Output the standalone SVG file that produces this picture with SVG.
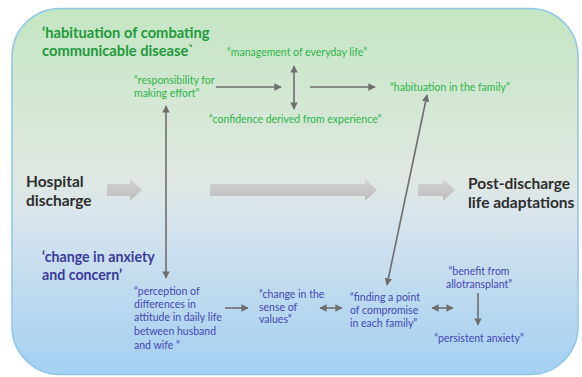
<svg xmlns="http://www.w3.org/2000/svg" width="582" height="377" viewBox="0 0 582 377">
  <defs>
    <linearGradient id="bg" x1="0" y1="0" x2="0" y2="1">
      <stop offset="0" stop-color="#c4e6c2"/>
      <stop offset="0.45" stop-color="#dfe8e0"/>
      <stop offset="0.55" stop-color="#dae5ec"/>
      <stop offset="1" stop-color="#a3d0f2"/>
    </linearGradient>
    <linearGradient id="blk" x1="0" y1="0" x2="0" y2="1">
      <stop offset="0" stop-color="#d2d2d2"/>
      <stop offset="1" stop-color="#bdbdbd"/>
    </linearGradient>
    <marker id="ah" viewBox="0 0 10 10" refX="9" refY="5" markerWidth="4.6" markerHeight="4.6" orient="auto-start-reverse">
      <path d="M0,0 L10,5 L0,10 Z" fill="#6e6e6e"/>
    </marker>
  </defs>
  <style>
    .ttl { font-family: Lato, "Open Sans", sans-serif; font-weight: bold; }
    .g1 { fill: #1e9a3c; font-size: 14.7px; }
    .b1 { fill: #3b3b9c; font-size: 14.2px; }
    .g2 { fill: #2cb44a; font-family: Lato, "Open Sans", sans-serif; font-size: 10.5px; }
    .b2 { fill: #4646b4; font-family: Lato, "Open Sans", sans-serif; font-size: 10.5px; }
    .main { fill: #2e2e2e; font-size: 15.5px; font-family: Lato, "Open Sans", sans-serif; font-weight: bold; }
    .ln { stroke: #6e6e6e; stroke-width: 1.6; fill: none; }
    .one { marker-end: url(#ah); }
    .two { marker-start: url(#ah); marker-end: url(#ah); }
    .big { fill: url(#blk); }
  </style>

  <!-- background panel -->
  <rect x="12" y="8.5" width="566" height="366" rx="48" ry="48" fill="url(#bg)" stroke="#8cc6e8" stroke-width="1.5"/>

  <!-- connectors -->
  <g id="connectors">
    <path class="big" d="M107,184 H130 V179 L142,190 L130,201 V196 H107 Z"/>
    <path class="big" d="M210,184 H365 V179 L377,190 L365,201 V196 H210 Z"/>
    <path class="big" d="M418,184 H443 V179 L455,190 L443,201 V196 H418 Z"/>
    <line class="ln one" x1="216" y1="87" x2="281" y2="87"/>
    <line class="ln two" x1="294" y1="66" x2="294" y2="109"/>
    <line class="ln one" x1="310" y1="87" x2="375" y2="87"/>
    <line class="ln two" x1="166" y1="106" x2="166" y2="278"/>
    <line class="ln two" x1="427" y1="95" x2="387" y2="285"/>
    <line class="ln one" x1="225" y1="308" x2="248" y2="308"/>
    <line class="ln two" x1="320" y1="308" x2="342" y2="308"/>
    <line class="ln two" x1="432" y1="308" x2="453" y2="308"/>
    <line class="ln one" x1="478" y1="293" x2="478" y2="325"/>
  </g>

  <!-- stage labels -->
  <g id="hospital-discharge">
    <text class="main" x="26" y="187">Hospital</text>
    <text class="main" x="26" y="206">discharge</text>
  </g>
  <g id="post-discharge">
    <text class="main" x="468" y="189">Post-discharge</text>
    <text class="main" x="468" y="208">life adaptations</text>
  </g>

  <!-- upper theme -->
  <g id="theme-habituation">
    <text class="ttl g1" x="42" y="38">‘habituation of combating</text>
    <text class="ttl g1" x="42" y="56">communicable disease`</text>
  </g>
  <g id="management">
    <text class="g2" x="227" y="56">“management of everyday life”</text>
  </g>
  <g id="responsibility">
    <text class="g2" x="134" y="84">“responsibility for</text>
    <text class="g2" x="134" y="97">making effort”</text>
  </g>
  <g id="confidence">
    <text class="g2" x="209" y="123">“confidence derived from experience”</text>
  </g>
  <g id="habituation-family">
    <text class="g2" x="390" y="91">“habituation in the family”</text>
  </g>

  <!-- lower theme -->
  <g id="theme-anxiety">
    <text class="ttl b1" x="42" y="262">‘change in anxiety</text>
    <text class="ttl b1" x="42" y="280">and concern’</text>
  </g>
  <g id="perception">
    <text class="b2" x="134" y="295">“perception of</text>
    <text class="b2" x="134" y="308">differences in</text>
    <text class="b2" x="134" y="321">attitude in daily life</text>
    <text class="b2" x="134" y="335">between husband</text>
    <text class="b2" x="134" y="349">and wife ”</text>
  </g>
  <g id="values">
    <text class="b2" x="259" y="298">“change in the</text>
    <text class="b2" x="259" y="311">sense of</text>
    <text class="b2" x="259" y="323">values”</text>
  </g>
  <g id="compromise">
    <text class="b2" x="350" y="301">“finding a point</text>
    <text class="b2" x="350" y="314">of compromise</text>
    <text class="b2" x="350" y="327">in each family”</text>
  </g>
  <g id="allotransplant">
    <text class="b2" x="479" y="275" text-anchor="middle">“benefit from</text>
    <text class="b2" x="479" y="288" text-anchor="middle">allotransplant”</text>
  </g>
  <g id="persistent">
    <text class="b2" x="479" y="342" text-anchor="middle">“persistent anxiety”</text>
  </g>
</svg>
